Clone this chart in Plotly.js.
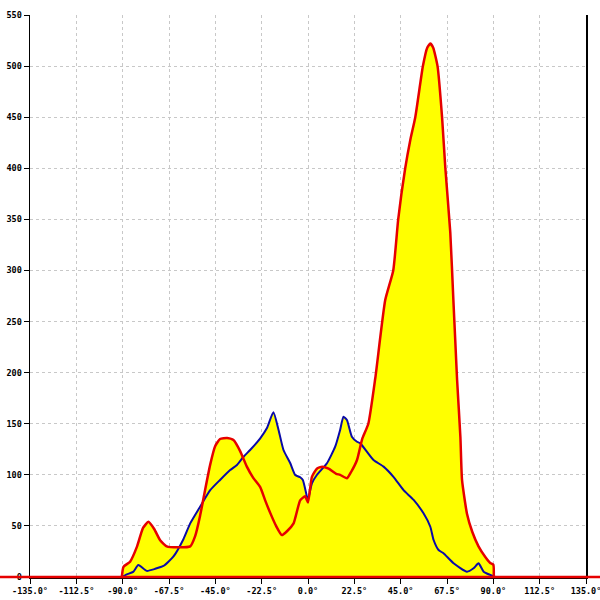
<!DOCTYPE html>
<html><head><meta charset="utf-8">
<script src="https://cdn.plot.ly/plotly-3.0.1.min.js"></script>
<style>html,body{margin:0;padding:0;background:#fff;}#chart{width:600px;height:600px;}</style>
</head><body><div id="chart"></div>
<script>
// Red series (angle in degrees, value)
const redAngle = [-90.4,-89.6,-86.4,-83,-80.1,-77.5,-74.7,-71.8,-68.6,-63.1,-57.2,-54.8,-52.4,-50,-47.5,-45.1,-42.7,-39.3,-36.2,-32.9,-29.7,-26.6,-23.2,-20.8,-18.4,-15.5,-12.7,-10.1,-7,-3.8,-1.4,0,1.9,4.3,6.9,10,13.7,15.6,18.9,21,23.8,26.3,29.3,32.7,37.5,41.4,43.8,47.2,49.7,52.1,55.8,57.9,59.4,60.8,62.9,65.1,66.7,69.1,70.6,71.5,72.4,74,74.8,77.2,79.8,82.8,86.1,88.5,90,90.2];
const redValue = [0,10,15,30,48,54,47,36,30,29,30,40,60,85,110,128,135,136,134,123,108,97,88,75,63,50,41,45,52.5,75,79,73,98,106,108,106,101,100,96.6,103,114.5,135,150,195,271,300,350,400,428,450,500,518,522,518,500,450,400,337,271,232,193,137,95,62,44,30,19.6,13.7,12,0];
// Blue series
const blueAngle = [-90.4,-88,-84.9,-82.4,-78.3,-74.2,-70.2,-65.4,-60.5,-57.2,-52.4,-47.5,-42.7,-37.8,-34.5,-31.3,-28.1,-23.2,-20,-16.8,-14.3,-11.9,-8.6,-6.2,-3.8,-2.5,-0.5,0,1.9,4.3,9.2,13.2,15.6,17.2,18.9,21.3,23.8,25.4,31.8,36.7,41.5,46.4,51.3,56.1,59.4,61,63.4,65.8,70.7,77.2,80.4,82.8,85.3,88.5,91];
const blueValue = [0,2.6,5,11.7,6,8,10.8,19.9,37,52.5,68.8,85,95,104.7,109.6,117.7,124.3,135.7,145.5,161.2,143.9,124.3,111.3,99.8,97.6,95,78.6,76,91.7,99.8,111.3,127.5,143.9,156.9,153.6,137.3,132.4,130.8,114.5,108,98,85,75.4,62.3,49.2,36.2,26.4,23.2,13.4,5.2,8.5,13.4,5.2,2,0];
// Tick values / labels
const xTickVals = [-135,-112.5,-90,-67.5,-45,-22.5,0,22.5,45,67.5,90,112.5,135];
const xTickText = xTickVals.map(v => v.toFixed(1) + '°');
const yTickVals = [0,50,100,150,200,250,300,350,400,450,500,550];
const yTickText = yTickVals.map(String);

const YELLOW = '#ffff00', RED = '#e60000', BLUE = '#0a0aa8';
const traces = [
  {x: redAngle, y: redValue, type:'scatter', mode:'lines', fill:'tozeroy', fillcolor:YELLOW, line:{width:0, color:YELLOW}, hoverinfo:'skip'},
  {x: blueAngle, y: blueValue, type:'scatter', mode:'lines', fill:'tozeroy', fillcolor:YELLOW, line:{width:0, color:YELLOW}, hoverinfo:'skip'},
  {x: blueAngle, y: blueValue, type:'scatter', mode:'lines', line:{width:2, color:BLUE, shape:'spline', smoothing:0.5}, cliponaxis:false},
  {x: redAngle, y: redValue, type:'scatter', mode:'lines', line:{width:2.5, color:RED, shape:'spline', smoothing:0.5}, cliponaxis:false}
];
const tickFont = {family:'"DejaVu Sans Mono", monospace', size:8.5, color:'#000', weight:'bold'};
const layout = {
  width:600, height:600,
  margin:{l:30, r:14, t:15, b:23, pad:0},
  paper_bgcolor:'#fff', plot_bgcolor:'#fff',
  showlegend:false,
  xaxis:{range:[-135,135], tickvals:xTickVals, ticktext:xTickText, ticks:'outside', ticklen:5, tickcolor:'#000', tickwidth:1,
         showline:true, linecolor:'#000', linewidth:1.5, showgrid:true, gridcolor:'#c8c8c8', griddash:'3px,3px', gridwidth:1,
         zeroline:false, tickfont:tickFont, fixedrange:true, ticklabeloverflow:'allow'},
  yaxis:{range:[0,550], tickvals:yTickVals, ticktext:yTickText, ticks:'outside', ticklen:5, tickcolor:'#000', tickwidth:1,
         showline:true, mirror:true, linecolor:'#000', linewidth:1.5, showgrid:true, gridcolor:'#c8c8c8', griddash:'3px,3px', gridwidth:1,
         zeroline:false, tickfont:tickFont, fixedrange:true, ticklabeloverflow:'allow'},
  shapes:[{type:'line', xref:'paper', yref:'paper', x0:-0.06, x1:1.03, y0:0, y1:0, line:{color:RED, width:2.5}, layer:'above'}]
};
Plotly.newPlot('chart', traces, layout, {staticPlot:true, displayModeBar:false});
</script></body></html>
